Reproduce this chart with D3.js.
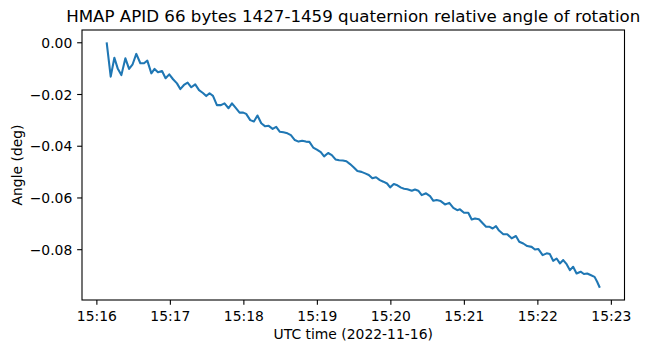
<meta charset="utf-8">
<script src="https://d3js.org/d3.v7.min.js"></script>

<body style="margin:0;background:#fff"></body>

<script>
    var width = 650;
    var height = 353;

    // seconds after 15:16:00 UTC, 2022-11-16
    var secs = [8.4,11.7,14.7,17.4,20.4,23.7,26.7,29.6,32.6,35.9,
        38.9,41.6,44.9,47.5,50.3,53.6,56.5,59.5,62.6,65.8,
        68.5,71.5,74.5,77.5,80.7,83.8,87.0,89.7,92.4,95.2,
        98.4,101.7,104.6,107.9,110.7,113.6,116.9,119.9,122.3,125.6,
        128.6,131.5,134.6,137.8,140.7,143.9,146.8,149.8,152.7,156.0,
        158.8,162.0,165.0,168.0,171.0,173.9,177.0,180.0,183.2,185.9,
        189.2,192.2,195.2,198.2,201.2,204.1,207.1,210.2,213.1,216.4,
        219.4,222.4,225.3,228.3,231.4,234.3,237.3,239.8,242.8,245.7,
        248.7,251.2,253.9,257.5,260.1,262.8,265.6,269.1,272.4,275.1,
        277.8,281.1,284.6,288.1,291.4,294.6,296.8,300.1,303.6,306.4,
        309.1,312.3,315.0,318.1,320.7,323.5,326.2,328.7,332.2,335.4,
        339.0,342.5,345.2,348.5,351.7,355.3,358.0,360.7,364.3,367.6,
        370.2,372.9,375.7,378.4,381.1,383.9,386.6,389.2,392.0,395.3,
        398.0,400.7,403.4,406.7,408.8,411.0];

    // relative angle of rotation (deg)
    var angle = [0,-0.0133,-0.0060,-0.0101,-0.0127,-0.0062,-0.0103,-0.0085,-0.0045,-0.0081,
        -0.0081,-0.0071,-0.0120,-0.0103,-0.0116,-0.0111,-0.0139,-0.0124,-0.0143,-0.0159,
        -0.0181,-0.0165,-0.0156,-0.0174,-0.0163,-0.0185,-0.0196,-0.0208,-0.0197,-0.0207,
        -0.0243,-0.0243,-0.0236,-0.0255,-0.0236,-0.0253,-0.0272,-0.0272,-0.0277,-0.0301,
        -0.0306,-0.0283,-0.0313,-0.0325,-0.0323,-0.0335,-0.0327,-0.0346,-0.0348,-0.0352,
        -0.0359,-0.0378,-0.0384,-0.0381,-0.0384,-0.0385,-0.0407,-0.0415,-0.0425,-0.0441,
        -0.0428,-0.0436,-0.0453,-0.0456,-0.0457,-0.0460,-0.0471,-0.0484,-0.0498,-0.0501,
        -0.0507,-0.0513,-0.0526,-0.0522,-0.0533,-0.0539,-0.0546,-0.0561,-0.0548,-0.0553,
        -0.0562,-0.0566,-0.0568,-0.0574,-0.0569,-0.0574,-0.0591,-0.0584,-0.0595,-0.0613,
        -0.0610,-0.0614,-0.0627,-0.0621,-0.0640,-0.0649,-0.0646,-0.0659,-0.0659,-0.0685,
        -0.0681,-0.0684,-0.0698,-0.0713,-0.0713,-0.0720,-0.0711,-0.0728,-0.0742,-0.0742,
        -0.0758,-0.0749,-0.0771,-0.0778,-0.0788,-0.0791,-0.0801,-0.0799,-0.0823,-0.0816,
        -0.0819,-0.0845,-0.0836,-0.0855,-0.0842,-0.0858,-0.0881,-0.0868,-0.0894,-0.0887,
        -0.0896,-0.0894,-0.0900,-0.0907,-0.0926,-0.0949];

    var yTicks = [0, -0.02, -0.04, -0.06, -0.08];
    var xTickLabels = ["15:16", "15:17", "15:18", "15:19", "15:20", "15:21", "15:22", "15:23"];

    var base = Date.UTC(2022, 10, 16, 15, 16, 0);
    var data = secs.map(function(s, i){ return {t: new Date(base + s * 1000), v: angle[i]}; });
    var xTicks = xTickLabels.map(function(l){
        var p = l.split(":");
        return new Date(Date.UTC(2022, 10, 16, +p[0], +p[1], 0));
    });

    // plot area (window.top is read-only, so not "top")
    var pL = 82, pR = 624.5, pT = 30, pB = 300;
    var font = "DejaVu Sans";
    var tick = 4.86;

    var svg = d3.select("body")
    .append("svg")
    .attr("width", width)
    .attr("height", height);

    var tExt = d3.extent(data, function(d){ return +d.t; });
    var tPad = (tExt[1] - tExt[0]) * 0.05;
    var scaleX = d3.scaleUtc()
    .domain([new Date(tExt[0] - tPad), new Date(tExt[1] + tPad)])
    .range([pL, pR]);

    var vExt = d3.extent(data, function(d){ return d.v; });
    var vPad = (vExt[1] - vExt[0]) * 0.05;
    var scaleY = d3.scaleLinear()
    .domain([vExt[0] - vPad, vExt[1] + vPad])
    .range([pB, pT]);

    var x = d3.axisBottom(scaleX)
    .tickValues(xTicks)
    .tickFormat(function(d, i){ return xTickLabels[i]; })
    .tickSize(tick)
    .tickPadding(tick);

    var y = d3.axisLeft(scaleY)
    .tickValues(yTicks)
    .tickFormat(d3.format(".2f"))
    .tickSize(tick)
    .tickPadding(tick);

    var gx = svg.append("g")
    .attr("transform", "translate(0," + pB + ")")
    .call(x);
    gx.select(".domain").remove();
    gx.selectAll("line").attr("stroke", "#000").attr("stroke-width", 1.1);
    gx.selectAll("text")
    .attr("dy", "0.81em")
    .style("font-family", font)
    .style("font-size", "13.9px")
    .attr("fill", "#000");

    var gy = svg.append("g")
    .attr("transform", "translate(" + pL + ",0)")
    .call(y);
    gy.select(".domain").remove();
    gy.selectAll("line").attr("stroke", "#000").attr("stroke-width", 1.1);
    gy.selectAll("text")
    .attr("dy", "0.36em")
    .style("font-family", font)
    .style("font-size", "13.9px")
    .attr("fill", "#000");

    var line = d3.line()
    .x(function(d){ return scaleX(d.t); })
    .y(function(d){ return scaleY(d.v); });

    svg.append("path")
    .datum(data)
    .attr("d", line)
    .attr("fill", "none")
    .attr("stroke", "#1f77b4")
    .attr("stroke-width", 2.08)
    .attr("stroke-linejoin", "round");

    svg.append("rect")
    .attr("x", pL)
    .attr("y", pT)
    .attr("width", pR - pL)
    .attr("height", pB - pT)
    .attr("fill", "none")
    .attr("stroke", "#000")
    .attr("stroke-width", 1.1);

    svg.append("text")
    .attr("x", (pL + pR) / 2)
    .attr("y", 22)
    .attr("text-anchor", "middle")
    .text("HMAP APID 66 bytes 1427-1459 quaternion relative angle of rotation")
    .style("font-family", font)
    .style("font-size", "16.67px");

    svg.append("text")
    .attr("x", (pL + pR) / 2)
    .attr("y", 339)
    .attr("text-anchor", "middle")
    .text("UTC time (2022-11-16)")
    .style("font-family", font)
    .style("font-size", "13.9px");

    svg.append("text")
    .attr("transform", "translate(22," + ((pT + pB) / 2) + ") rotate(-90)")
    .attr("text-anchor", "middle")
    .text("Angle (deg)")
    .style("font-family", font)
    .style("font-size", "13.9px");
</script>
